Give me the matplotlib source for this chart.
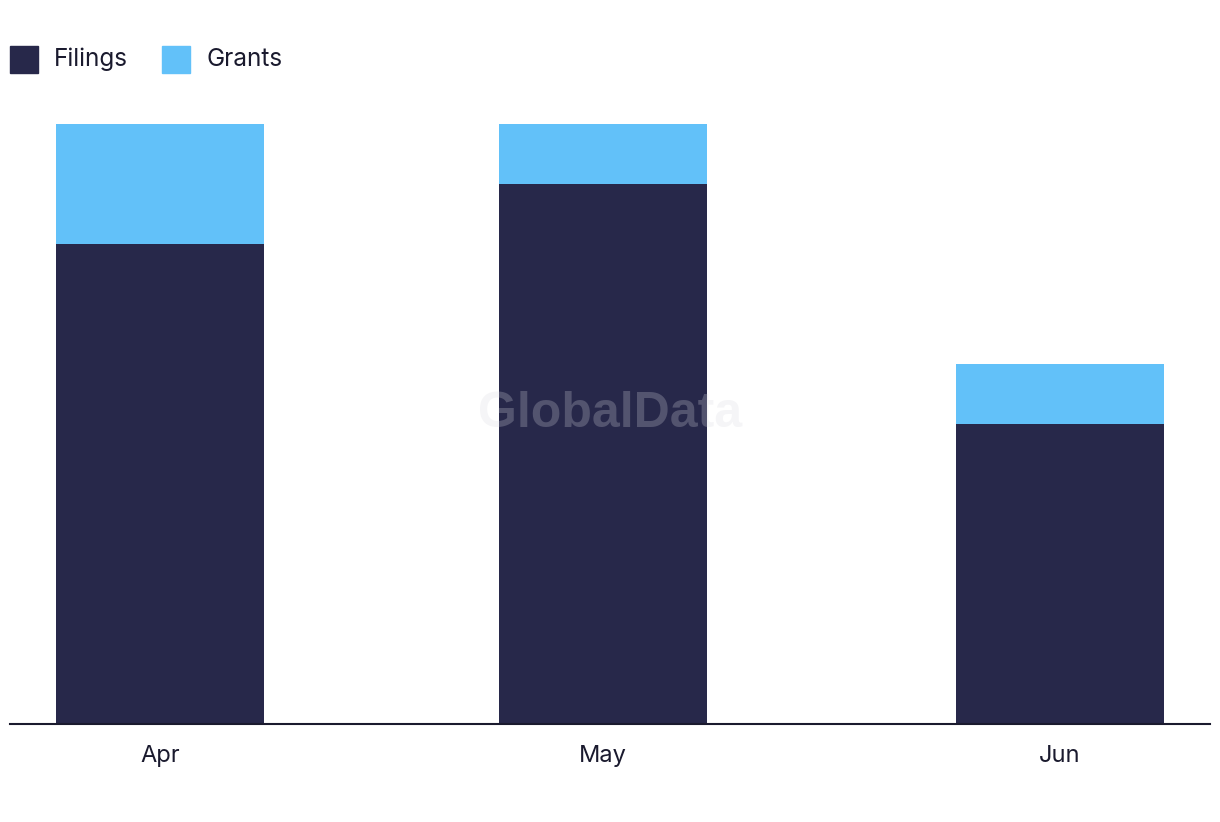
import datetime as dt
import matplotlib
matplotlib.use("Agg")
import matplotlib.pyplot as plt
import matplotlib.dates as mdates
from matplotlib.patches import Rectangle

months = ["Apr", "May", "Jun"]
month_dates = [dt.date(2023, 4, 1), dt.date(2023, 5, 1), dt.date(2023, 6, 1)]
filings = [8, 9, 5]
grants = [2, 1, 1]

navy = "#27284a"
blue = "#62c1f9"

plt.rcParams['font.family'] = ['Inter', 'DejaVu Sans']

fig = plt.figure(figsize=(12.2, 8.22), dpi=100)
# axes from x=10..1210 px, y baseline 724 px, top 124 px
ax = fig.add_axes([10 / 1220, (822 - 724) / 822, 1200 / 1220, 600 / 822])

x = mdates.date2num(month_dates)
width = 14.1
ax.bar(x, filings, width=width, color=navy, label="Filings")
ax.bar(x, grants, width=width, bottom=filings, color=blue, label="Grants")

ax.set_xlim(x[0] - 10.2, x[-1] + 10.2)
ax.set_ylim(0, 10)
ax.set_xticks(x)
ax.set_xticklabels(months, fontsize=17, color="#1a1a2e")
ax.tick_params(axis="x", length=0, pad=15)
ax.set_yticks([])
for s in ["top", "right", "left"]:
    ax.spines[s].set_visible(False)
ax.spines["bottom"].set_color("#1a1a2e")
ax.spines["bottom"].set_linewidth(1.5)

# legend drawn by hand at top-left
for i, (lab, col) in enumerate([("Filings", navy), ("Grants", blue)]):
    x0 = [10, 162][i]
    fig.patches.append(Rectangle((x0 / 1220, 1 - 73 / 822), 28 / 1220, 27 / 822,
                                 transform=fig.transFigure, color=col))
    fig.text((x0 + 44) / 1220, 1 - 59 / 822, lab, fontsize=17.5, color="#1a1a2e",
             va="center", ha="left")

# watermark
fig.text(610 / 1220, 1 - 414 / 822, "GlobalData", fontsize=36, fontweight="bold",
         family="Liberation Sans", color="#d8d8e0", alpha=0.25, ha="center", va="center")

fig.savefig("out.png", dpi=100)
